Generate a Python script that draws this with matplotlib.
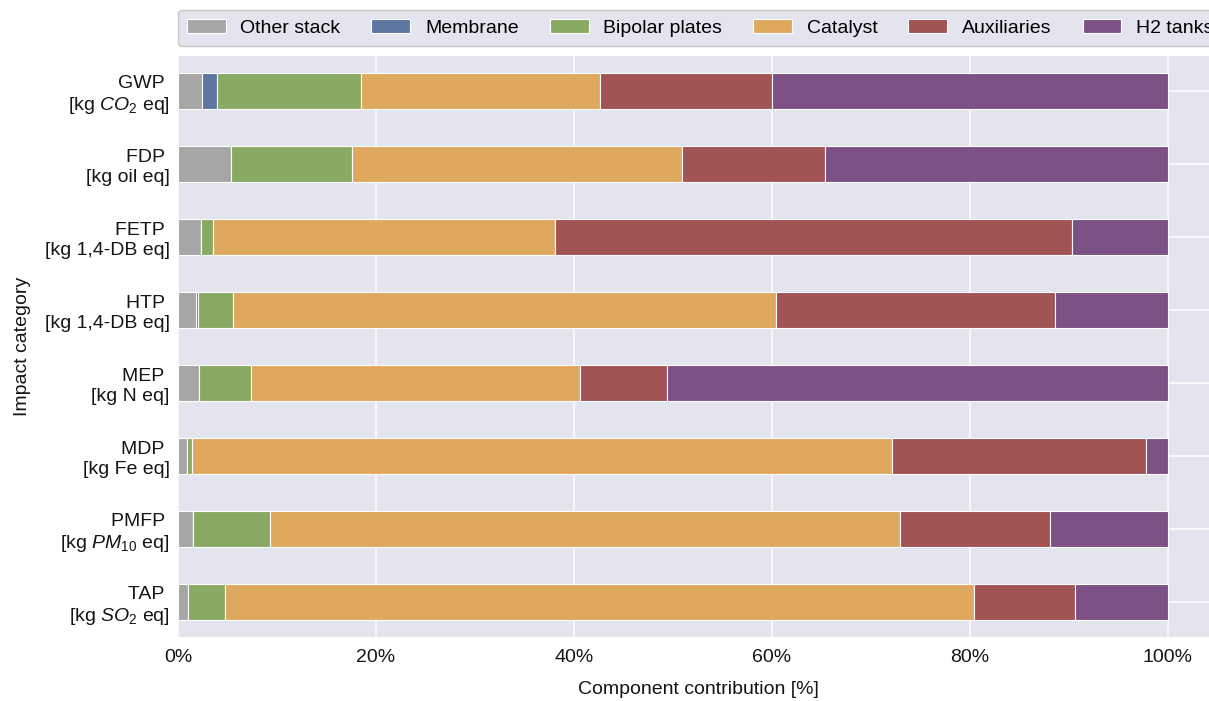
import matplotlib
matplotlib.use("Agg")
import matplotlib.pyplot as plt
import numpy as np
from matplotlib.ticker import FuncFormatter

# impact categories, top to bottom
categories = ["GWP \n[kg $CO_2$ eq]", "FDP \n[kg oil eq]", "FETP \n[kg 1,4-DB eq]",
              "HTP \n[kg 1,4-DB eq]", "MEP \n[kg N eq]", "MDP \n[kg Fe eq]",
              "PMFP \n[kg $PM_{10}$ eq]", "TAP \n[kg $SO_2$ eq]"]

# component shares in %
other_stack = [2.45, 5.4, 2.3, 1.8, 2.15, 0.95, 1.5, 1.05]
membrane = [1.5, 0.0, 0.0, 0.25, 0.0, 0.0, 0.0, 0.0]
bipolar_plates = [14.5, 12.2, 1.25, 3.55, 5.2, 0.5, 7.8, 3.65]
catalyst = [24.15, 33.3, 34.55, 54.8, 33.25, 70.7, 63.65, 75.7]
auxiliaries = [17.4, 14.45, 52.2, 28.2, 8.8, 25.65, 15.15, 10.2]
h2_tanks = [40.0, 34.65, 9.7, 11.4, 50.6, 2.2, 11.9, 9.4]

components = ["Other stack", "Membrane", "Bipolar plates", "Catalyst", "Auxiliaries", "H2 tanks"]
colors = ["#A6A6A6", "#5E77A0", "#8AAA64", "#DEA95E", "#A25353", "#7D5186"]

plt.rcParams['font.family'] = ['Liberation Sans', 'DejaVu Sans']
plt.rcParams['mathtext.fontset'] = 'custom'
plt.rcParams['mathtext.rm'] = 'Liberation Sans'
plt.rcParams['mathtext.it'] = 'Liberation Sans:italic'

fs = 14

fig = plt.figure(figsize=(12.09, 7.01), dpi=100)
# axes run past the right edge on purpose (cropped figure)
ax = fig.add_axes([178/1209, 64/701, 1039.5/1209, 581/701])
ax.set_facecolor("#E4E4EE")
ax.set_axisbelow(True)
ax.grid(True, color="white", linewidth=1.1)
for s in ax.spines.values():
    s.set_visible(False)

y = np.arange(len(categories))
data = [other_stack, membrane, bipolar_plates, catalyst, auxiliaries, h2_tanks]
left = np.zeros(len(categories))
for vals, name, col in zip(data, components, colors):
    vals = np.array(vals)
    ax.barh(y, vals, left=left, height=0.5, color=col, edgecolor="white",
            linewidth=0.8, label=name)
    left += vals

ax.set_xlim(0, 105)
ax.set_ylim(len(categories) - 0.52, -0.48)
ax.set_xticks([0, 20, 40, 60, 80, 100])
ax.xaxis.set_major_formatter(FuncFormatter(lambda v, p: f"{v:.0f}%"))
ax.set_yticks(y)
ax.set_yticklabels(categories)
ax.tick_params(axis="both", length=0, labelsize=fs, colors="#151515")
ax.tick_params(axis="x", pad=9)
ax.tick_params(axis="y", pad=6)

ax.set_xlabel("Component contribution [%]", fontsize=fs, color="#151515")
ax.set_ylabel("Impact category", fontsize=fs, color="#151515")
ax.xaxis.set_label_coords(520/1039.5, -0.075)
ax.yaxis.set_label_coords(-147/1039.5, 0.5)

leg = ax.legend(ncol=6, loc="lower left", bbox_to_anchor=(0, 1.018), borderaxespad=0,
                fontsize=fs, handlelength=2.0, handletextpad=0.75, columnspacing=1.6,
                borderpad=0.45, frameon=True, facecolor="#E4E4EE", edgecolor="#C8C8C8",
                framealpha=1)

fig.savefig("out.png", dpi=100)
